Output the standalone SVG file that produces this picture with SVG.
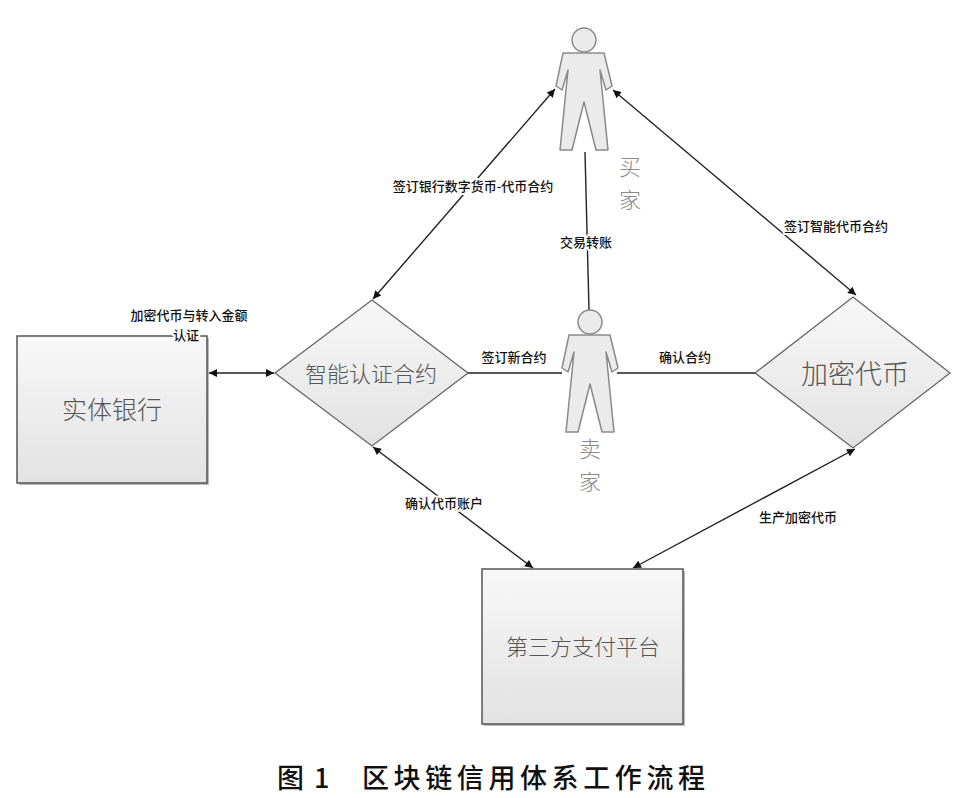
<svg xmlns="http://www.w3.org/2000/svg" width="973" height="798" viewBox="0 0 973 798">
<style>
.box{fill:url(#g);stroke:#555;stroke-width:1.5}
.dia{fill:url(#g);stroke:#666;stroke-width:1.3}
.per{fill:#ebebeb;stroke:#8a8a8a;stroke-width:1.5;stroke-linejoin:round}
.nt{font-family:"Noto Sans CJK SC","Noto Sans",sans-serif;fill:#555;text-anchor:middle;font-weight:300}
.pt{font-family:"Noto Sans CJK SC","Noto Sans",sans-serif;fill:#8a8a8a;font-size:22px;text-anchor:middle;font-weight:300}
.lb{font-family:"Noto Sans CJK SC","Noto Sans",sans-serif;font-size:13px;fill:#111;font-weight:500;text-anchor:middle;paint-order:stroke;stroke:#fff;stroke-width:4px;stroke-linejoin:round}
.ln{stroke:#222;stroke-width:1.4;fill:none}
.cap{font-family:"Noto Sans CJK SC","Liberation Sans",sans-serif;font-size:27px;font-weight:500;fill:#111}
</style>
<defs>
<linearGradient id="g" x1="0" y1="0" x2="0" y2="1">
<stop offset="0" stop-color="#f8f8f8"/>
<stop offset="1" stop-color="#e2e2e2"/>
</linearGradient>
<marker id="a" viewBox="0 0 10 10" refX="10" refY="5" markerWidth="10" markerHeight="8" markerUnits="userSpaceOnUse" orient="auto-start-reverse">
<path d="M0,0 L10,5 L0,10 Z" fill="#111"/>
</marker>
</defs>
<rect width="973" height="798" fill="#fff"/>

<g id="connectors">
<line class="ln" x1="209" y1="373" x2="274" y2="373" marker-start="url(#a)" marker-end="url(#a)"/>
<line class="ln" x1="373" y1="299" x2="555" y2="89" marker-start="url(#a)" marker-end="url(#a)"/>
<line class="ln" x1="613" y1="90" x2="856" y2="295" marker-start="url(#a)" marker-end="url(#a)"/>
<line class="ln" x1="585" y1="152" x2="589" y2="310"/>
<line class="ln" x1="467" y1="373" x2="562" y2="373"/>
<line class="ln" x1="617" y1="373" x2="755" y2="373"/>
<line class="ln" x1="373" y1="447" x2="533" y2="568" marker-start="url(#a)" marker-end="url(#a)"/>
<line class="ln" x1="855" y1="449" x2="633" y2="568" marker-start="url(#a)" marker-end="url(#a)"/>
</g>

<g id="bank">
<rect x="19" y="338" width="190" height="147" fill="#bbb"/>
<rect class="box" x="17" y="336" width="190" height="147"/>
<text class="nt" x="112" y="419" font-size="25">实体银行</text>
</g>

<g id="smart-contract">
<polygon class="dia" points="372,300 468,373 372,446 275,373"/>
<text class="nt" x="371" y="382" font-size="22">智能认证合约</text>
</g>

<g id="crypto-token">
<polygon class="dia" points="853,297 950,373 853,448 755,373"/>
<text class="nt" x="855" y="384" font-size="27">加密代币</text>
</g>

<g id="payment-platform">
<rect x="484" y="571" width="201" height="155" fill="#bbb"/>
<rect class="box" x="482" y="569" width="201" height="155"/>
<text class="nt" x="583" y="655" font-size="22">第三方支付平台</text>
</g>

<g id="buyer">
<path class="per" transform="translate(584,40)" d="M-21,13 L20,13 L28,46 L22,50 L16,30 L24,110 L12,110 L0,62 L-12,110 L-24,110 L-16,30 L-22,50 L-28,46 Z"/>
<circle class="per" cx="584" cy="40" r="12"/>
<text class="pt" x="630" y="175">买</text>
<text class="pt" x="630" y="208">家</text>
</g>

<g id="seller">
<path class="per" transform="translate(590,322)" d="M-21,13 L20,13 L28,46 L22,50 L16,30 L24,110 L12,110 L0,62 L-12,110 L-24,110 L-16,30 L-22,50 L-28,46 Z"/>
<circle class="per" cx="590" cy="322" r="12"/>
<text class="pt" x="590" y="457">卖</text>
<text class="pt" x="590" y="490">家</text>
</g>

<g id="connector-labels">
<text class="lb" x="473" y="191">签订银行数字货币-代币合约</text>
<text class="lb" x="836" y="231">签订智能代币合约</text>
<text class="lb" x="586" y="247">交易转账</text>
<text class="lb" x="514" y="362">签订新合约</text>
<text class="lb" x="685" y="362">确认合约</text>
<text class="lb" x="189" y="320">加密代币与转入金额</text>
<text class="lb" x="186" y="340">认证</text>
<text class="lb" x="444" y="508">确认代币账户</text>
<text class="lb" x="798" y="522">生产加密代币</text>
</g>

<text class="cap" y="788"><tspan x="277">图</tspan><tspan x="314">1</tspan><tspan x="362" letter-spacing="4.6">区块链信用体系工作流程</tspan></text>
</svg>
